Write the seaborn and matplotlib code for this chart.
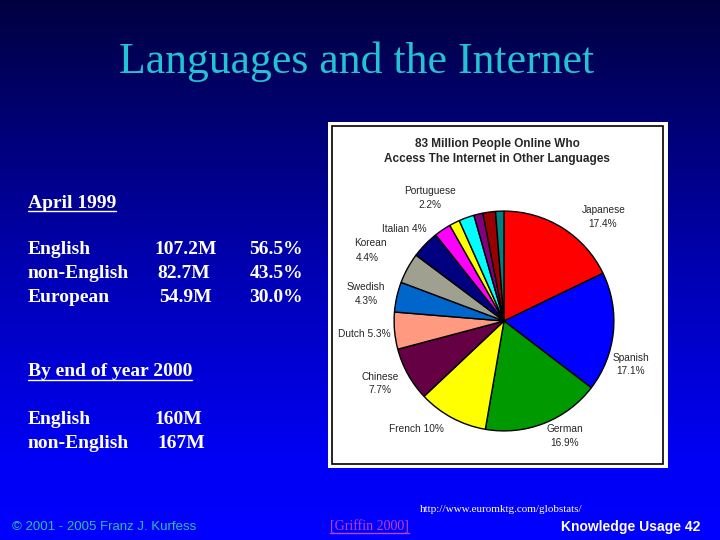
import numpy as np
import seaborn as sns
import matplotlib
from matplotlib import pyplot as plt
from matplotlib.patches import Rectangle
from matplotlib.lines import Line2D

# pie data (clockwise from 12 o'clock)
languages = ["Japanese", "Spanish", "German", "French", "Chinese", "Dutch",
             "Swedish", "Korean", "Italian", "other1", "other2", "Portuguese",
             "other3", "other4", "other5"]
shares = [17.4, 17.1, 16.9, 10.0, 7.7, 5.3, 4.3, 4.4, 4.0, 2.4, 1.5, 2.2, 1.3, 1.8, 1.2]
slice_colors = ["#ff0000", "#0000ff", "#009900", "#ffff00", "#660044", "#ff9980",
                "#0066cc", "#a0a090", "#000080", "#ff00ff", "#ffff00", "#00ffff",
                "#800080", "#990000", "#008080"]

# text table on the left
rows_1999 = ["English", "non-English", "European"]
users_1999 = ["107.2M", "82.7M", "54.9M"]
pct_1999 = ["56.5%", "43.5%", "30.0%"]
rows_2000 = ["English", "non-English"]
users_2000 = ["160M", "167M"]

W, H = 720, 540
sns.set_style("white")
plt.rcParams['font.family'] = ['DejaVu Sans']

fig = plt.figure(figsize=(7.2, 5.4), dpi=100)

# gradient background
bg = fig.add_axes([0, 0, 1, 1])
grad = np.linspace(0, 1, 256).reshape(-1, 1)
cmap = matplotlib.colors.LinearSegmentedColormap.from_list(
    "", [(0.0, (0, 0, 0.25)), (0.5, (0, 0, 0.70)), (0.85, (0, 0, 0.96)), (1.0, (0, 0, 1.0))])
bg.imshow(grad, aspect="auto", cmap=cmap, extent=[0, W, H, 0])
bg.set_xlim(0, W)
bg.set_ylim(H, 0)
bg.axis("off")

# white chart box
bg.add_patch(Rectangle((328, 122), 340, 346, facecolor="white", edgecolor="none"))
bg.add_patch(Rectangle((332, 126), 331, 338, facecolor="none", edgecolor="black", lw=1.2))

serif = "Liberation Serif"
sans = "Liberation Sans"
fs = 14

bg.text(357, 62, "Languages and the Internet", color="#22c4d4", fontsize=31.5,
        family=serif, ha="center", va="center")

under = []
under.append(bg.text(28, 203, "April 1999", color="white", fontsize=fs,
                     family=serif, weight="bold", va="center"))
for i, (r, u, p) in enumerate(zip(rows_1999, users_1999, pct_1999)):
    y = 250 + i * 23.5
    bg.text(28, y, r, color="white", fontsize=fs, family=serif, weight="bold", va="center")
    bg.text(154 + [0, 3, 5][i], y, u, color="white", fontsize=fs, family=serif,
            weight="bold", va="center")
    bg.text(303, y, p, color="white", fontsize=fs, family=serif, weight="bold",
            va="center", ha="right")
under.append(bg.text(28, 372, "By end of year 2000", color="white", fontsize=fs,
                     family=serif, weight="bold", va="center"))
for i, (r, u) in enumerate(zip(rows_2000, users_2000)):
    y = 419 + i * 24
    bg.text(28, y, r, color="white", fontsize=fs, family=serif, weight="bold", va="center")
    bg.text(154 + [0, 3][i], y, u, color="white", fontsize=fs, family=serif,
            weight="bold", va="center")

# footer
bg.text(420, 509, "http://www.euromktg.com/globstats/", color="white", fontsize=8,
        family=serif, va="center")
bg.text(12, 527, "\u00a9 2001 - 2005 Franz J. Kurfess", color="#30bfa8", fontsize=9.5,
        family=sans, va="center")
under.append(bg.text(330, 527, "[Griffin 2000]", color="#c040d0", fontsize=10,
                     family=serif, va="center"))
bg.text(700, 527, "Knowledge Usage 42", color="white", fontsize=10,
        family=sans, weight="bold", va="center", ha="right")

# pie chart
pax = fig.add_axes([393 / W, 1 - 432 / H, 222 / W, 222 / H])
pax.pie(shares, colors=sns.color_palette(slice_colors), startangle=90, counterclock=False,
        wedgeprops=dict(edgecolor="black", linewidth=1.0))
pax.set_xlim(-1.01, 1.01)
pax.set_ylim(-1.01, 1.01)
pax.set_aspect("auto")
pax.axis("off")

bg.text(497, 144, "83 Million People Online Who", fontsize=8.5, family=sans,
        weight="bold", ha="center", va="center")
bg.text(497, 159, "Access The Internet in Other Languages", fontsize=8.5, family=sans,
        weight="bold", ha="center", va="center")

labels = [
    (430, 191, "Portuguese"), (430, 205, "2.2%"),
    (604, 210, "Japanese"), (603, 224, "17.4%"),
    (404, 229, "Italian 4%"),
    (370, 243, "Korean"), (367, 258, "4.4%"),
    (366, 287, "Swedish"), (366, 301, "4.3%"),
    (364, 334, "Dutch 5.3%"),
    (631, 358, "Spanish"), (631, 371, "17.1%"),
    (380, 377, "Chinese"), (380, 390, "7.7%"),
    (416, 429, "French 10%"),
    (565, 429, "German"), (565, 443, "16.9%"),
]
for x, y, s in labels:
    bg.text(x, y, s, fontsize=7.3, family=sans, ha="center", va="center")

# underlines
fig.canvas.draw()
inv = bg.transData.inverted()
for t in under:
    bb = t.get_window_extent()
    (x0, y0), (x1, _) = inv.transform([[bb.x0, bb.y0], [bb.x1, bb.y0]])
    bg.add_line(Line2D([x0, x1], [y0 - 1, y0 - 1], color=t.get_color(), lw=1))

fig.savefig("out.png", dpi=100)
